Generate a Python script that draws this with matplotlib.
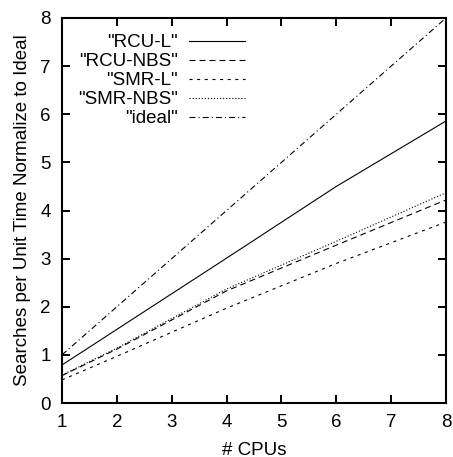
import matplotlib
matplotlib.use('Agg')
import matplotlib.pyplot as plt

plt.rcParams['font.family'] = ['Liberation Sans', 'DejaVu Sans']
plt.rcParams['lines.scale_dashes'] = False

# data
cpus = [1, 2, 4, 6, 8]
rcu_l = [0.79, 1.53, 3.01, 4.50, 5.86]
rcu_nbs = [0.57, 1.12, 2.33, 3.28, 4.22]
smr_l = [0.48, 0.97, 1.97, 2.90, 3.76]
smr_nbs = [0.58, 1.14, 2.37, 3.36, 4.37]
ideal = [1, 2, 4, 6, 8]

series = [
    ('"RCU-L"', rcu_l, '-'),
    ('"RCU-NBS"', rcu_nbs, (0, (4.3, 2.9))),
    ('"SMR-L"', smr_l, (0, (2.2, 3.3))),
    ('"SMR-NBS"', smr_nbs, (0, (0.8, 1.4))),
    ('"ideal"', ideal, (0, (4.3, 2.2, 0.8, 2.2))),
]

fig = plt.figure(figsize=(4.53, 4.57), dpi=100)
ax = fig.add_axes([62 / 453, 54 / 457, 384 / 453, 385 / 457])

for label, vals, ls in series:
    ax.plot(cpus, vals, color='black', lw=0.8, linestyle=ls, label=label)

ax.set_xlim(1, 8)
ax.set_ylim(0, 8)
ax.set_xticks(range(1, 9))
ax.set_yticks(range(0, 9))
ax.tick_params(direction='in', length=6, width=1.4, labelsize=13.5,
               top=True, right=True, pad=8)
for sp in ax.spines.values():
    sp.set_linewidth(1.5)

ax.set_xlabel('# CPUs', fontsize=13.5, labelpad=7.5)
ax.set_ylabel('Searches per Unit Time Normalize to Ideal', fontsize=13.5, labelpad=7)

ax.legend(loc='upper right', bbox_to_anchor=(0.477, 0.958), frameon=False,
          markerfirst=False, fontsize=13.5, handlelength=3.0, handletextpad=0.6,
          labelspacing=0.1, borderpad=0, borderaxespad=0)

fig.savefig('out.png', dpi=100)
